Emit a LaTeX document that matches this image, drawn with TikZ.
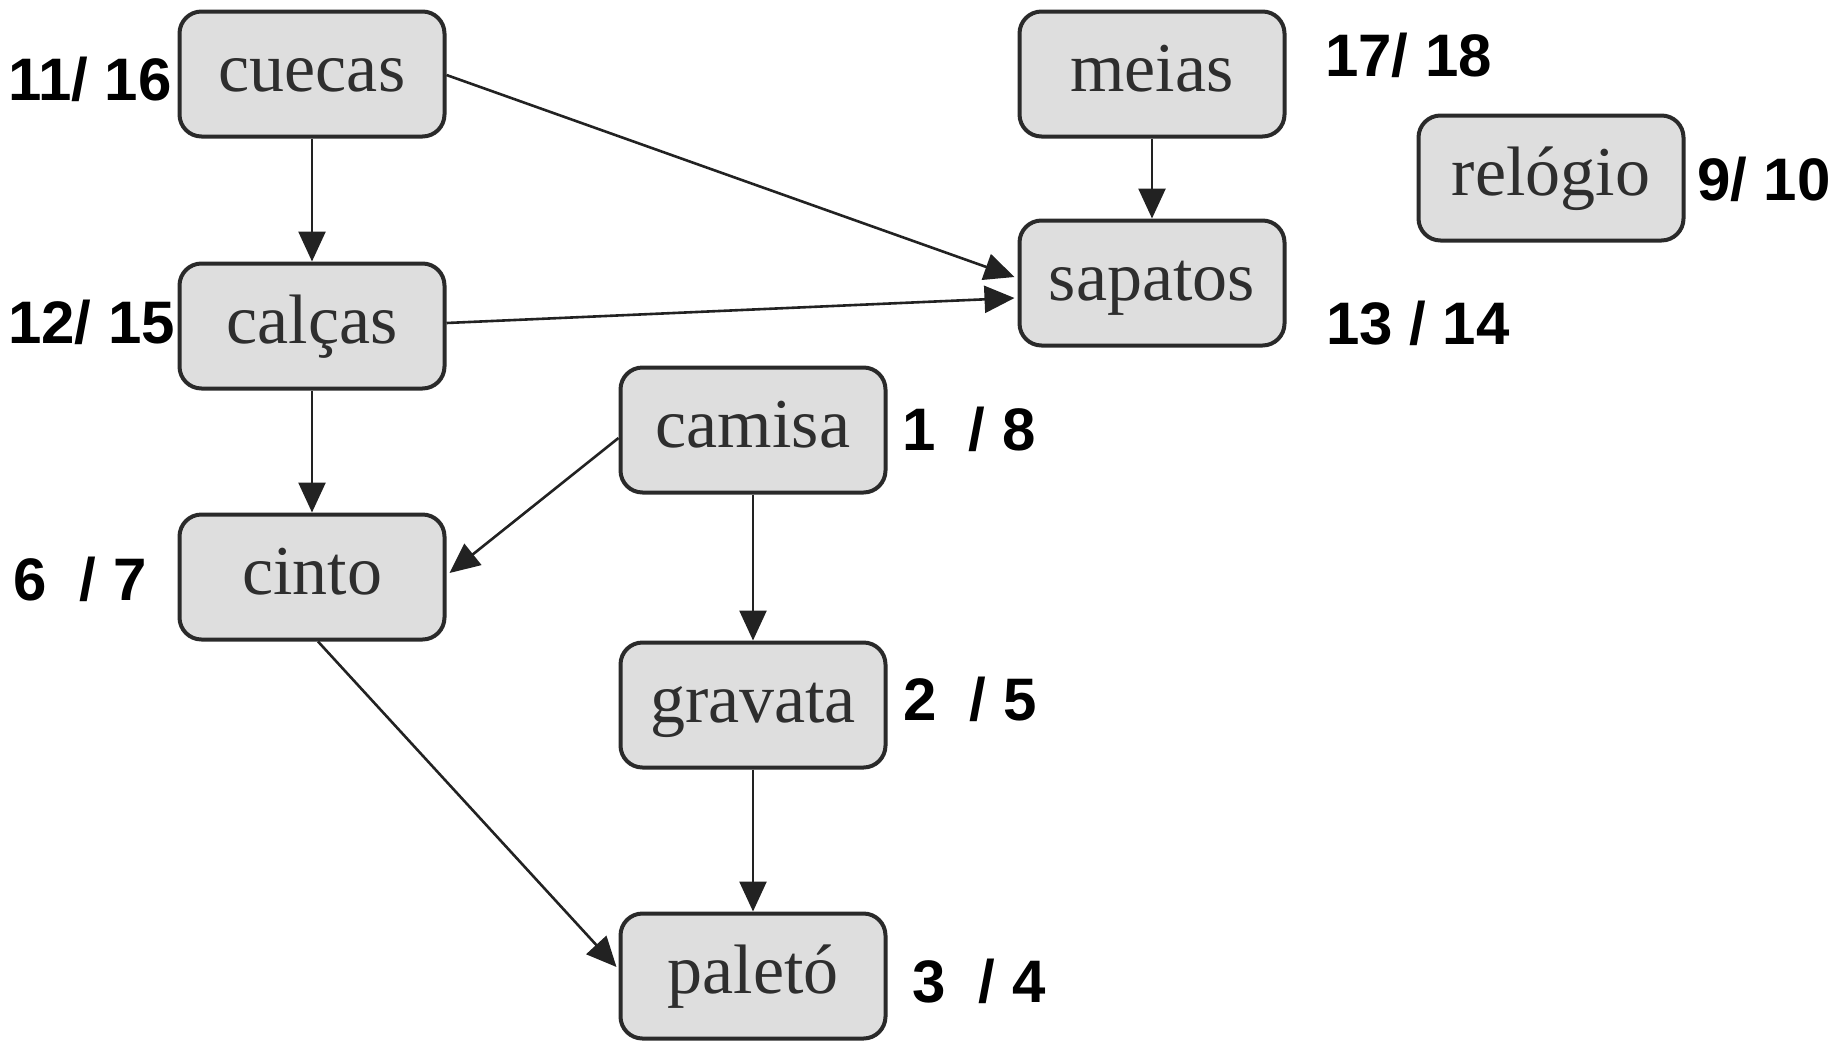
\documentclass[tikz,border=0pt]{standalone}
\usepackage{fontspec}
\setmainfont{Liberation Serif}
\newfontfamily\labfont{Liberation Sans}
\usetikzlibrary{arrows.meta}
\definecolor{boxfill}{HTML}{DEDEDE}
\definecolor{boxline}{HTML}{2A2A2A}
\definecolor{edgecol}{HTML}{222222}
\tikzset{
  item/.style={draw=boxline, line width=4pt, fill=boxfill, rounded corners=22pt,
    minimum width=265pt, minimum height=125pt, text height=44pt, text depth=10pt,
    inner sep=0pt, text=black!82, font=\fontsize{70}{80}\selectfont},
  num/.style={anchor=base west, inner sep=0pt, font=\labfont\bfseries\fontsize{60}{70}\selectfont},
  edge/.style={draw=edgecol, line width=2.6pt, -{Triangle[length=30pt,width=27pt]}}
}
\begin{document}
\begin{tikzpicture}[x=1pt,y=-1pt]
\useasboundingbox (0,0) rectangle (1843,1042);
% nodes
\node[item] (cuecas) at (312,74) {cuecas};
\node[item] (calcas) at (312,326) {calças};
\node[item] (cinto) at (312,577) {cinto};
\node[item] (camisa) at (753,430) {camisa};
\node[item] (gravata) at (753,705) {gravata};
\node[item] (paleto) at (753,976) {paletó};
\node[item] (meias) at (1152,74) {meias};
\node[item] (sapatos) at (1152,283) {sapatos};
\node[item] (relogio) at (1551,178) {relógio};
% labels
\node[num] (l1) at (8,100) {11/ 16};
\node[num] (l2) at (8,343) {12/ 15};
\node[num] (l3) at (13,600) {6\ \ / 7};
\node[num] (l4) at (902,450) {1\ \ / 8};
\node[num] (l5) at (903,720) {2\ \ / 5};
\node[num] (l6) at (912,1002) {3\ \ / 4};
\node[num] (l7) at (1325,76) {17/ 18};
\node[num] (l8) at (1326,344) {13 / 14};
\node[num] (l9) at (1697,200) {9/ 10};
% edges
\draw[edge] (cuecas.south) -- (calcas.north);
\draw[edge] (calcas.south) -- (cinto.north);
\draw[edge] (camisa.south) -- (gravata.north);
\draw[edge] (gravata.south) -- (paleto.north);
\draw[edge] (meias.south) -- (sapatos.north);
\draw[edge] ([yshift=-1pt]cuecas.east) -- ([yshift=6pt,xshift=-3pt]sapatos.west);
\draw[edge] ([yshift=3pt]calcas.east) -- ([yshift=-15pt,xshift=-3pt]sapatos.west);
\draw[edge] ([yshift=-8pt]camisa.west) -- ([yshift=4pt,xshift=3pt]cinto.east);
\draw[edge] ([xshift=6pt]cinto.south) -- ([yshift=9pt,xshift=-2pt]paleto.west);
\end{tikzpicture}
\end{document}
